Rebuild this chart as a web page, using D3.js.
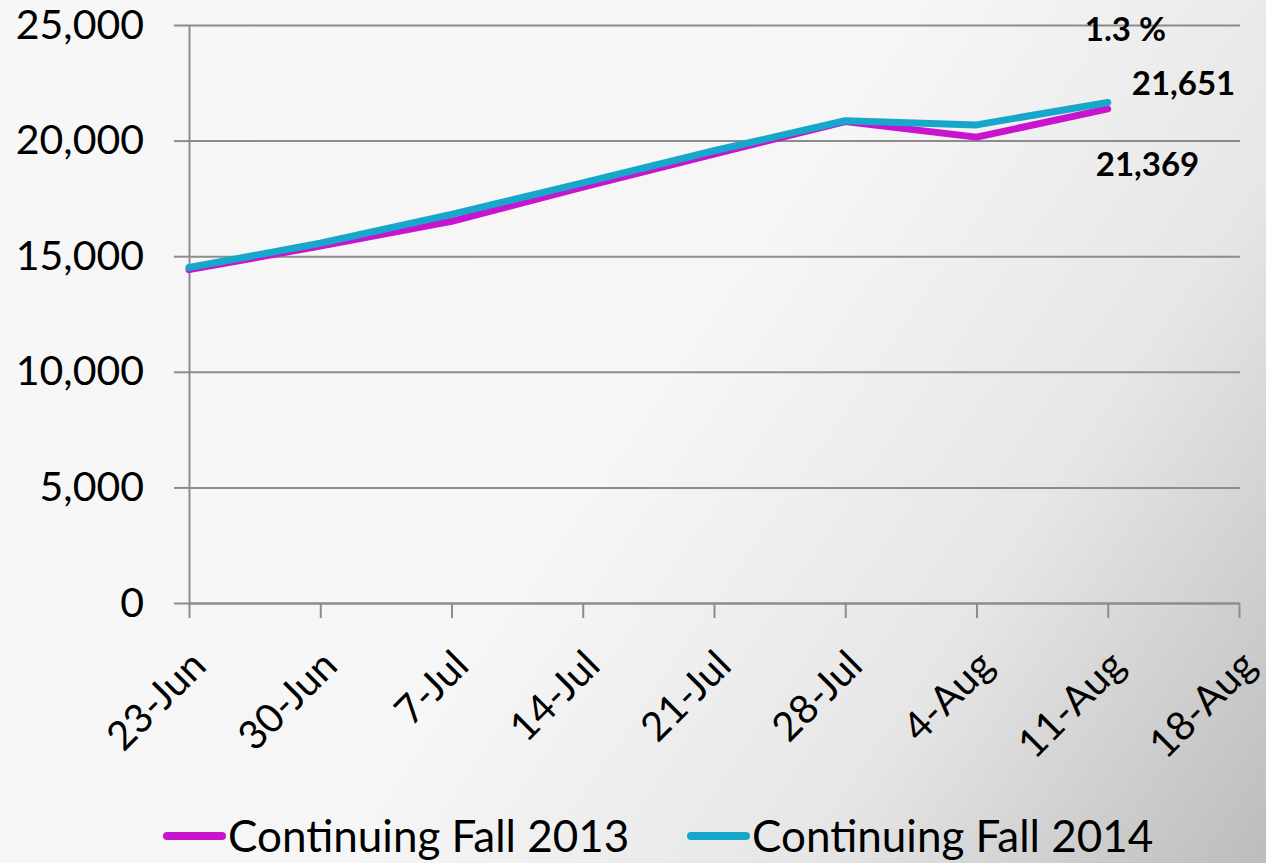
<!DOCTYPE html>
<html>
<head>
<meta charset="utf-8">
<script src="https://cdn.jsdelivr.net/npm/d3@7"></script>
<style>
  html, body { margin: 0; padding: 0; }
  svg { display: block; font-family: Lato, "Open Sans", sans-serif; }
</style>
</head>
<body>
<svg></svg>
<script>
const weeks = ['23-Jun','30-Jun','7-Jul','14-Jul','21-Jul','28-Jul','4-Aug','11-Aug','18-Aug'];
const fall2013 = [14420, 15440, 16510, 17990, 19420, 20820, 20150, 21369];
const fall2014 = [14510, 15560, 16810, 18170, 19560, 20860, 20680, 21651];
const seriesNames = ['Continuing Fall 2013', 'Continuing Fall 2014'];
const seriesColors = ['#c814cf', '#16a7ca'];
const yTicks = [0, 5000, 10000, 15000, 20000, 25000];
const changeLabel = '1.3 %';

function draw() {
  const width = 1266, height = 863;
  const svg = d3.select('svg').attr('width', width).attr('height', height);

  // backdrop, light grey going darker toward bottom right
  const defs = svg.append('defs');
  const grad = defs.append('linearGradient').attr('id', 'bg')
    .attr('gradientUnits', 'userSpaceOnUse')
    .attr('x1', 0).attr('y1', 0).attr('x2', width).attr('y2', height);
  grad.append('stop').attr('offset', 0).attr('stop-color', '#f7f7f7');
  grad.append('stop').attr('offset', 0.5).attr('stop-color', '#f6f6f6');
  grad.append('stop').attr('offset', 0.75).attr('stop-color', '#e6e6e6');
  grad.append('stop').attr('offset', 1).attr('stop-color', '#bcbcbc');
  svg.append('rect').attr('width', width).attr('height', height).attr('fill', 'url(#bg)');

  const x = d3.scalePoint().domain(weeks).range([189, 1239]);
  const y = d3.scaleLinear().domain([0, 25000]).range([603, 25]);
  const gridColor = '#8c8c8c';

  // gridlines
  const grid = svg.append('g').attr('transform', 'translate(189,0)')
    .call(d3.axisLeft(y).tickValues(yTicks).tickSize(-1051).tickFormat(''));
  grid.select('.domain').remove();
  grid.selectAll('.tick line').attr('stroke', gridColor).attr('stroke-width', 2);

  // y axis
  const yAxisG = svg.append('g').attr('transform', 'translate(189,0)')
    .call(d3.axisLeft(y).tickValues(yTicks).tickSizeInner(15).tickSizeOuter(0)
      .tickPadding(30).tickFormat(d3.format(',')));
  yAxisG.select('.domain').attr('stroke', gridColor).attr('stroke-width', 2);
  yAxisG.selectAll('.tick line').attr('stroke', gridColor).attr('stroke-width', 2);
  yAxisG.selectAll('.tick text')
    .attr('fill', '#000').attr('font-size', 41).attr('font-family', 'Lato, sans-serif');

  // x axis
  const xAxisG = svg.append('g').attr('transform', 'translate(0,603)')
    .call(d3.axisBottom(x).tickSizeInner(15).tickSizeOuter(0));
  xAxisG.select('.domain').attr('stroke', gridColor).attr('stroke-width', 2);
  xAxisG.selectAll('.tick line').attr('stroke', gridColor).attr('stroke-width', 2);
  xAxisG.selectAll('.tick text')
    .attr('fill', '#000').attr('font-size', 40).attr('font-family', 'Lato, sans-serif')
    .attr('text-anchor', 'end')
    .attr('x', 0).attr('y', 0).attr('dy', '0.35em')
    .attr('transform', 'translate(9,55) rotate(-45)');

  // lines
  const line = d3.line()
    .x((d, i) => x(weeks[i]))
    .y(d => y(d));
  [fall2013, fall2014].forEach((vals, k) => {
    svg.append('path')
      .attr('d', line(vals))
      .attr('fill', 'none')
      .attr('stroke', seriesColors[k])
      .attr('stroke-width', 7)
      .attr('stroke-linejoin', 'round')
      .attr('stroke-linecap', 'round');
  });

  // end labels
  const lastIdx = fall2014.length - 1;
  const lx = x(weeks[lastIdx]);
  const labels = svg.append('g')
    .attr('font-family', 'Lato, sans-serif').attr('font-weight', 'bold')
    .attr('font-size', 33).attr('fill', '#000');
  labels.append('text')
    .attr('x', lx + 24).attr('y', y(fall2014[lastIdx]) - 7)
    .text(d3.format(',')(fall2014[lastIdx]));
  labels.append('text')
    .attr('x', lx - 12).attr('y', y(fall2013[lastIdx]) + 67)
    .text(d3.format(',')(fall2013[lastIdx]));
  labels.append('text')
    .attr('x', lx - 23).attr('y', 41)
    .text(changeLabel);

  // legend
  const legendX = [167, 691];
  const legend = svg.append('g').selectAll('g').data(seriesNames).enter().append('g')
    .attr('transform', (d, i) => `translate(${legendX[i]},836)`);
  legend.append('line')
    .attr('x1', 0).attr('x2', 55).attr('y1', 0).attr('y2', 0)
    .attr('stroke', (d, i) => seriesColors[i])
    .attr('stroke-width', 8).attr('stroke-linecap', 'round');
  legend.append('text')
    .attr('x', 61).attr('y', 0).attr('dy', '0.36em')
    .attr('font-family', 'Lato, sans-serif').attr('font-size', 44).attr('fill', '#000')
    .text(d => d);
}

draw();
</script>
</body>
</html>
